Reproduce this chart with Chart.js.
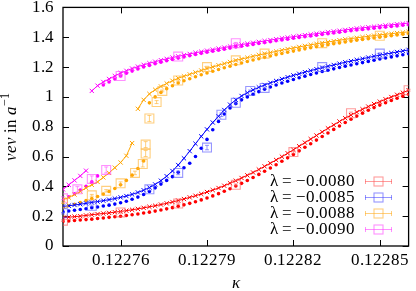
<!DOCTYPE html>
<html><head><meta charset="utf-8">
<script src="https://cdn.jsdelivr.net/npm/chart.js@4"></script>
<style>
@font-face{font-family:'PlotSerif';font-style:normal;font-weight:400;src:local('Liberation Serif'),local('LiberationSerif'),local('DejaVu Serif');}
@font-face{font-family:'PlotSerif';font-style:italic;font-weight:400;src:local('Liberation Serif Italic'),local('LiberationSerif-Italic'),local('DejaVu Serif Italic');}
html,body{margin:0;padding:0;background:#fff}canvas{display:block}
.pre{position:absolute;left:0;top:0;color:#fff;font-family:PlotSerif;font-size:17px;z-index:-1}
</style>
</head><body>
<div class="pre">0.1 <i>v</i></div>
<canvas id="c" width="416" height="291" style="position:relative"></canvas>
<script>
// ---- data ----
const kappa = [
0.122740,0.122742,0.122744,0.122746,0.122748,0.122750,0.122752,0.122754,0.122756,0.122758,
0.122760,0.122762,0.122764,0.122766,0.122768,0.122770,0.122772,0.122774,0.122776,0.122778,
0.122780,0.122782,0.122784,0.122786,0.122788,0.122790,0.122792,0.122794,0.122796,0.122798,
0.122800,0.122802,0.122804,0.122806,0.122808,0.122810,0.122812,0.122814,0.122816,0.122818,
0.122820,0.122822,0.122824,0.122826,0.122828,0.122830,0.122832,0.122834,0.122836,0.122838,
0.122840,0.122842,0.122844,0.122846,0.122848,0.122850,0.122852,0.122854,0.122856,0.122858,
0.122860];

const lambdaLabels = ['λ = −0.0080','λ = −0.0085','λ = −0.0088','λ = −0.0090'];

const redCross = [
0.190,0.193,0.197,0.200,0.205,0.210,0.214,0.218,0.222,0.227,
0.232,0.237,0.243,0.249,0.256,0.263,0.270,0.278,0.286,0.295,
0.305,0.315,0.326,0.337,0.349,0.362,0.375,0.389,0.404,0.421,
0.438,0.456,0.474,0.493,0.513,0.534,0.555,0.577,0.599,0.622,
0.645,0.669,0.693,0.717,0.741,0.765,0.789,0.812,0.835,0.857,
0.878,0.898,0.917,0.935,0.952,0.968,0.984,0.999,1.014,1.028,
1.045];
const redDot = [
0.165,0.168,0.171,0.174,0.177,0.180,0.184,0.188,0.192,0.196,
0.200,0.205,0.210,0.215,0.221,0.227,0.234,0.241,0.249,0.257,
0.266,0.276,0.286,0.297,0.309,0.322,0.336,0.351,0.367,0.384,
0.402,0.420,0.439,0.459,0.480,0.501,0.523,0.545,0.568,0.591,
0.614,0.638,0.662,0.686,0.710,0.734,0.758,0.782,0.805,0.828,
0.850,0.871,0.891,0.910,0.928,0.945,0.961,0.976,0.991,1.005,
1.018];
const blueCross = [
0.265,0.270,0.275,0.280,0.286,0.292,0.298,0.304,0.311,0.318,
0.326,0.335,0.346,0.359,0.374,0.392,0.413,0.438,0.468,0.503,
0.543,0.588,0.636,0.686,0.735,0.782,0.828,0.870,0.912,0.948,
0.980,1.006,1.028,1.047,1.064,1.080,1.094,1.107,1.120,1.132,
1.144,1.155,1.166,1.176,1.186,1.196,1.205,1.214,1.223,1.232,
1.240,1.248,1.256,1.264,1.272,1.280,1.287,1.294,1.301,1.308,
1.315];
const blueDot = [
0.230,0.235,0.240,0.245,0.250,0.256,0.262,0.268,0.274,0.281,
0.290,0.300,0.313,0.328,0.345,0.365,0.390,0.415,0.440,0.465,
0.495,0.525,0.555,0.600,0.655,0.715,0.780,0.835,0.885,0.925,
0.955,0.980,1.000,1.018,1.035,1.051,1.066,1.080,1.093,1.105,
1.117,1.128,1.139,1.150,1.160,1.170,1.179,1.188,1.197,1.206,
1.214,1.222,1.230,1.238,1.246,1.254,1.261,1.268,1.275,1.282,
1.289];
const orangeCross = [
0.310,0.325,0.345,0.365,0.390,0.410,0.430,0.460,0.490,0.525,
0.560,0.605,0.690,0.920,0.980,1.020,1.048,1.070,1.090,1.108,
1.125,1.138,1.151,1.164,1.177,1.190,1.201,1.212,1.223,1.234,
1.245,1.254,1.263,1.272,1.281,1.289,1.297,1.305,1.313,1.321,
1.328,1.335,1.342,1.349,1.356,1.362,1.368,1.374,1.380,1.386,
1.391,1.396,1.401,1.406,1.411,1.416,1.420,1.424,1.428,1.432,
1.436];
const orangeDot = [
0.260,0.270,0.280,0.292,0.305,0.318,0.332,0.348,0.366,0.386,
0.410,0.440,0.475,0.520,0.570,0.960,1.000,1.030,1.055,1.075,
1.093,1.108,1.122,1.135,1.148,1.160,1.172,1.184,1.195,1.206,
1.217,1.227,1.237,1.247,1.256,1.265,1.274,1.283,1.291,1.299,
1.307,1.315,1.322,1.329,1.336,1.343,1.350,1.356,1.362,1.368,
1.374,1.380,1.385,1.390,1.395,1.400,1.405,1.410,1.415,1.420,
1.425];
const magentaCross = [
0.380,0.410,0.440,0.470,0.505,1.040,1.075,1.100,1.120,1.140,
1.160,1.175,1.190,1.203,1.215,1.226,1.236,1.246,1.255,1.264,
1.272,1.280,1.288,1.296,1.303,1.310,1.317,1.324,1.331,1.338,
1.345,1.351,1.357,1.363,1.369,1.375,1.381,1.387,1.393,1.398,
1.404,1.409,1.414,1.419,1.424,1.429,1.434,1.439,1.444,1.449,
1.454,1.459,1.463,1.467,1.471,1.475,1.479,1.483,1.487,1.491,
1.495];
const magentaDot = [
0.310,0.330,0.350,0.375,0.400,0.430,0.470,1.080,1.100,1.120,
1.140,1.158,1.173,1.187,1.200,1.211,1.222,1.232,1.242,1.251,
1.260,1.268,1.276,1.284,1.292,1.299,1.306,1.313,1.320,1.327,
1.334,1.340,1.346,1.352,1.358,1.364,1.370,1.376,1.382,1.387,
1.393,1.398,1.403,1.408,1.413,1.418,1.423,1.428,1.433,1.438,
1.443,1.448,1.452,1.456,1.460,1.464,1.468,1.472,1.476,1.480,
1.484];
// index where a curve jumps to its upper branch (null = continuous)
const redCrossJump = null, redDotJump = null, blueCrossJump = null, blueDotJump = null;
const orangeCrossJump = 13, orangeDotJump = 15, magentaCrossJump = 5, magentaDotJump = 7;

// squares with error bars
const redSqK = [0.12274,0.12276,0.12278,0.12280,0.12282,0.12284,0.12286];
const redSqV = [0.170,0.225,0.285,0.410,0.630,0.890,1.045];
const redSqE = [0.005,0.005,0.005,0.006,0.008,0.008,0.006];
const blueSqK = [0.12274,0.12275,0.12277,0.12278,0.12279,0.122795,0.12280,0.122805,0.12281,0.12283,0.12285];
const blueSqV = [0.220,0.270,0.380,0.490,0.660,0.880,0.960,1.040,1.060,1.200,1.290];
const blueSqE = [0.005,0.005,0.008,0.012,0.015,0.012,0.008,0.006,0.005,0.005,0.005];
const orangeSqK = [0.12274,0.12275,0.122755,0.12276,0.122765,0.1227677,0.1227687,0.1227687,0.12277,0.1227725,0.1227745,0.12278,0.12279,0.12280,0.12281,0.12283,0.12285];
const orangeSqV = [0.290,0.340,0.370,0.420,0.490,0.550,0.620,0.680,0.855,0.965,1.040,1.110,1.200,1.245,1.290,1.360,1.410];
const orangeSqE = [0.005,0.006,0.008,0.010,0.012,0.020,0.020,0.020,0.020,0.010,0.006,0.005,0.005,0.005,0.005,0.005,0.005];
const magentaSqK = [0.12274,0.122745,0.12275,0.122755,0.12276,0.12278,0.12280];
const magentaSqV = [0.320,0.380,0.450,0.510,1.140,1.270,1.360];
const magentaSqE = [0.010,0.018,0.020,0.020,0.006,0.005,0.005];

const xTickValues = [0.12276,0.12279,0.12282,0.12285];
const xTickLabels = ['0.12276','0.12279','0.12282','0.12285'];
const yTickValues = [0,0.2,0.4,0.6,0.8,1.0,1.2,1.4,1.6];
const yTickLabels = ['0','0.2','0.4','0.6','0.8','1','1.2','1.4','1.6'];

// ---- styling ----
const FONT = 'PlotSerif, serif';
const colors = ['#ff0000','#0000ff','#ffa500','#ff00ff'];
const sqColors = ['rgba(255,90,90,0.6)','rgba(80,80,255,0.6)','rgba(255,175,40,0.6)','rgba(255,70,255,0.6)'];

function curvePoints(vals, jump){
  const pts = kappa.map((k,i)=>({x:k, y:vals[i]}));
  if (jump !== null) pts.splice(jump, 0, {x:(kappa[jump-1]+kappa[jump])/2, y:null});
  return pts;
}
const series = [
  {cross:redCross, cj:redCrossJump, dot:redDot, dj:redDotJump, sk:redSqK, sv:redSqV, se:redSqE},
  {cross:blueCross, cj:blueCrossJump, dot:blueDot, dj:blueDotJump, sk:blueSqK, sv:blueSqV, se:blueSqE},
  {cross:orangeCross, cj:orangeCrossJump, dot:orangeDot, dj:orangeDotJump, sk:orangeSqK, sv:orangeSqV, se:orangeSqE},
  {cross:magentaCross, cj:magentaCrossJump, dot:magentaDot, dj:magentaDotJump, sk:magentaSqK, sv:magentaSqV, se:magentaSqE}
];

const datasets = [];
series.forEach((s,i)=>{
  datasets.push({type:'scatter', label:'sq'+i, data:s.sk.map((k,j)=>({x:k,y:s.sv[j],e:s.se[j]})),
    pointStyle:'rect', radius:6.3, borderWidth:1.1, borderColor:sqColors[i], backgroundColor:'rgba(0,0,0,0)', showLine:false, errColor:sqColors[i]});
});
series.forEach((s,i)=>{
  datasets.push({type:'scatter', label:'x'+i, data:curvePoints(s.cross, s.cj), pointStyle:'crossRot', radius:3,
    borderWidth:1, borderColor:colors[i], backgroundColor:colors[i], showLine:true, spanGaps:false});
  datasets.push({type:'scatter', label:'d'+i, data:curvePoints(s.dot, s.dj), pointStyle:'circle', radius:1.8,
    borderWidth:0, backgroundColor:colors[i], borderColor:colors[i], showLine:false});
});

const CA = {left:63, right:411, top:7, bottom:246};

const deco = {
  id:'deco',
  beforeDatasetsDraw(chart){
    const ctx = chart.ctx, a = chart.chartArea, xs = chart.scales.x, ys = chart.scales.y;
    ctx.save();
    ctx.strokeStyle = '#000'; ctx.lineWidth = 1;
    ctx.beginPath();
    xTickValues.forEach(v=>{ const p = Math.round(xs.getPixelForValue(v))+0.5;
      ctx.moveTo(p, a.bottom); ctx.lineTo(p, a.bottom-6); ctx.moveTo(p, a.top); ctx.lineTo(p, a.top+6); });
    yTickValues.forEach(v=>{ const p = Math.round(ys.getPixelForValue(v))+0.5;
      ctx.moveTo(a.left, p); ctx.lineTo(a.left+6, p); ctx.moveTo(a.right, p); ctx.lineTo(a.right-6, p); });
    ctx.stroke();
    ctx.lineWidth = 1.3;
    ctx.strokeRect(a.left, a.top, a.right-a.left, a.bottom-a.top);
    ctx.restore();
  },
  afterDatasetsDraw(chart){
    const ctx = chart.ctx, xs = chart.scales.x, ys = chart.scales.y;
    ctx.save(); ctx.lineWidth = 1;
    chart.data.datasets.forEach(ds=>{
      if (!ds.errColor) return;
      ctx.strokeStyle = ds.errColor;
      ctx.beginPath();
      ds.data.forEach(d=>{
        const px = xs.getPixelForValue(d.x), y1 = ys.getPixelForValue(d.y-d.e), y2 = ys.getPixelForValue(d.y+d.e);
        ctx.moveTo(px, y1); ctx.lineTo(px, y2);
        ctx.moveTo(px-2, y1); ctx.lineTo(px+2, y1);
        ctx.moveTo(px-2, y2); ctx.lineTo(px+2, y2);
      });
      ctx.stroke();
    });
    ctx.restore();
  },
  afterDraw(chart){
    const ctx = chart.ctx, a = chart.chartArea;
    ctx.save();
    ctx.fillStyle = '#000';
    // legend
    ctx.font = 'normal 400 17px ' + FONT;
    ctx.textBaseline = 'middle';
    const ly = [181, 197, 213, 229];
    lambdaLabels.forEach((t,i)=>{
      ctx.textAlign = 'right'; ctx.fillStyle = '#000';
      ctx.fillText(t, 355, ly[i]+1);
      ctx.strokeStyle = sqColors[i]; ctx.lineWidth = 1;
      ctx.beginPath();
      ctx.moveTo(365, ly[i]+0.5); ctx.lineTo(392, ly[i]+0.5);
      ctx.moveTo(365.5, ly[i]-2); ctx.lineTo(365.5, ly[i]+3);
      ctx.moveTo(391.5, ly[i]-2); ctx.lineTo(391.5, ly[i]+3);
      ctx.stroke();
      ctx.lineWidth = 1.1;
      ctx.strokeRect(374, ly[i]-4, 9, 9);
    });
    // x title
    ctx.textAlign = 'center'; ctx.textBaseline = 'alphabetic';
    ctx.font = 'italic 400 17px ' + FONT;
    ctx.fillText('κ', (a.left+a.right)/2, 288);
    // y title
    ctx.translate(16, (a.top+a.bottom)/2);
    ctx.rotate(-Math.PI/2);
    const parts = [['vev','italic 400 17px '],[' in ','normal 400 17px '],['a','italic 400 17px '],['−1','normal 400 12px ',true]];
    let w = 0;
    parts.forEach(p=>{ ctx.font = p[1]+FONT; w += ctx.measureText(p[0]).width; });
    let x = -w/2;
    ctx.textAlign = 'left';
    parts.forEach(p=>{ ctx.font = p[1]+FONT; ctx.fillText(p[0], x, p[2] ? -7 : 0); x += ctx.measureText(p[0]).width; });
    ctx.restore();
  }
};

Chart.defaults.color = '#000';
Chart.defaults.font.family = FONT;

let chart = null;
function build(){
  if (chart) { chart.update('none'); return; }
  chart = new Chart(document.getElementById('c'), {
    type:'scatter',
    data:{datasets},
    options:{
      responsive:false, animation:false, devicePixelRatio:1,
      layout:{padding:{top:CA.top, right:416-CA.right, left:0, bottom:0}},
      plugins:{legend:{display:false}, tooltip:{enabled:false}},
      scales:{
        x:{type:'linear', min:0.12274, max:0.12286,
          grid:{display:false, drawTicks:false}, border:{display:false},
          afterBuildTicks:(s)=>{ s.ticks = xTickValues.map(v=>({value:v})); },
          afterFit:(s)=>{ s.height = 291-CA.bottom; s.paddingLeft = 0; s.paddingRight = 0; },
          ticks:{autoSkip:false, maxRotation:0, padding:4, font:{size:17, family:FONT, weight:'400'},
            callback:(v,i)=>xTickLabels[i]}},
        y:{type:'linear', min:0, max:1.6,
          grid:{display:false, drawTicks:false}, border:{display:false},
          afterBuildTicks:(s)=>{ s.ticks = yTickValues.map(v=>({value:v})); },
          afterFit:(s)=>{ s.width = CA.left; s.paddingTop = 0; s.paddingBottom = 0; },
          ticks:{autoSkip:false, padding:9, font:{size:17, family:FONT, weight:'400'},
            callback:(v,i)=>yTickLabels[i]}}
      }
    },
    plugins:[deco]
  });
}
build();
Promise.all([
  document.fonts.load('17px PlotSerif'),
  document.fonts.load('italic 17px PlotSerif')
]).then(build, build);
document.fonts.ready.then(build);
</script></body></html>
